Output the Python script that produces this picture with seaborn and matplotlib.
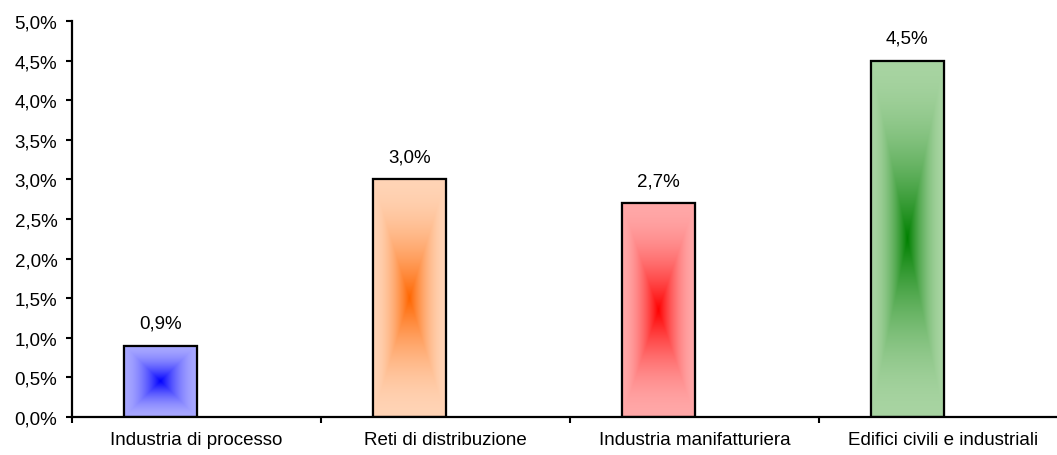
import numpy as np
import pandas as pd
import matplotlib
matplotlib.use("Agg")
import matplotlib.pyplot as plt
from matplotlib.colors import to_rgb
from matplotlib.ticker import FuncFormatter, FixedLocator
import seaborn as sns

# Data
categories = ["Industria di processo", "Reti di distribuzione",
              "Industria manifatturiera", "Edifici civili e industriali"]
values = [0.009, 0.030, 0.027, 0.045]
center_colors = ["#0000FF", "#FF6600", "#FF0000", "#008000"]
edge_colors = ["#A8A8FF", "#FFD4B6", "#FFA8A8", "#A8D4A2"]

sns.set_theme(style="white")
plt.rcParams["font.family"] = ["Liberation Sans", "DejaVu Sans"]
plt.rcParams["font.size"] = 13.5
plt.rcParams["text.color"] = "black"
plt.rcParams["xtick.color"] = "black"
plt.rcParams["ytick.color"] = "black"

fig = plt.figure(figsize=(10.57, 4.56), dpi=100)
ax = fig.add_axes([72 / 1057, 1 - 418 / 456, (1068 - 72) / 1057, (418 - 22) / 456])

# Each category holds a slot for two series; only the first is filled,
# so the bar sits in the left half of its slot.
bar_width = 0.29
df = pd.DataFrame({
    "pos": np.arange(len(categories)) - bar_width / 2,
    "value": values,
    "category": categories,
})

sns.barplot(data=df, x="pos", y="value", hue="category", palette=edge_colors,
            native_scale=True, width=bar_width, dodge=False, legend=False,
            edgecolor="black", linewidth=1.5, ax=ax, zorder=2)

# Rectangular "from center" gradient fill inside each bar
n = 300
for patch, c0, c1 in zip(ax.patches, center_colors, edge_colors):
    x0, y0 = patch.get_x(), patch.get_y()
    w, h = patch.get_width(), patch.get_height()
    u = np.linspace(-1, 1, n)
    X, Y = np.meshgrid(u, u)
    t = np.clip(np.maximum(np.abs(X), np.abs(Y)), 0, 1)
    wc = (1 - t) ** 1.8
    c0a, c1a = np.array(to_rgb(c0)), np.array(to_rgb(c1))
    img = c0a[None, None, :] * wc[..., None] + c1a[None, None, :] * (1 - wc[..., None])
    im = ax.imshow(img, extent=[x0, x0 + w, y0, y0 + h], origin="lower",
                   aspect="auto", interpolation="bilinear", zorder=2.5)
    im.set_clip_path(patch)
    # outline on top of the gradient
    ax.add_patch(plt.Rectangle((x0, y0), w, h, fill=False, edgecolor="black",
                               linewidth=1.6, zorder=3))

def pct(v):
    return f"{v * 100:.1f}%".replace(".", ",")

for patch, v in zip(ax.patches, values):
    ax.annotate(pct(v), (patch.get_x() + patch.get_width() / 2, v),
                xytext=(0, 10), textcoords="offset points",
                ha="center", va="bottom", fontsize=13.5, color="black")

ax.set_xlim(-0.5, len(categories) - 0.5)
ax.set_ylim(0, 0.05)
ax.set_yticks(np.arange(0, 0.0501, 0.005))
ax.yaxis.set_major_formatter(FuncFormatter(lambda v, _: pct(v)))

# Tick marks at slot boundaries, labels at slot centres
ax.xaxis.set_major_locator(FixedLocator(np.arange(-0.5, len(categories), 1.0)))
ax.xaxis.set_major_formatter(FuncFormatter(lambda v, _: ""))
ax.set_xticks(np.arange(len(categories)), labels=categories, minor=True)

ax.tick_params(axis="y", which="major", direction="out", length=4.5, width=1.5,
               color="black", labelcolor="black", labelsize=13.5, pad=6, left=True)
ax.tick_params(axis="x", which="major", direction="out", length=4.5, width=1.5,
               color="black", bottom=True)
ax.tick_params(axis="x", which="minor", length=0, labelsize=13.5,
               labelcolor="black", pad=10)

for s in ["top", "right"]:
    ax.spines[s].set_visible(False)
for s in ["left", "bottom"]:
    ax.spines[s].set_color("black")
    ax.spines[s].set_linewidth(1.6)

ax.set_xlabel("")
ax.set_ylabel("")
ax.grid(False)

fig.savefig("out.png", dpi=100, facecolor="white")
